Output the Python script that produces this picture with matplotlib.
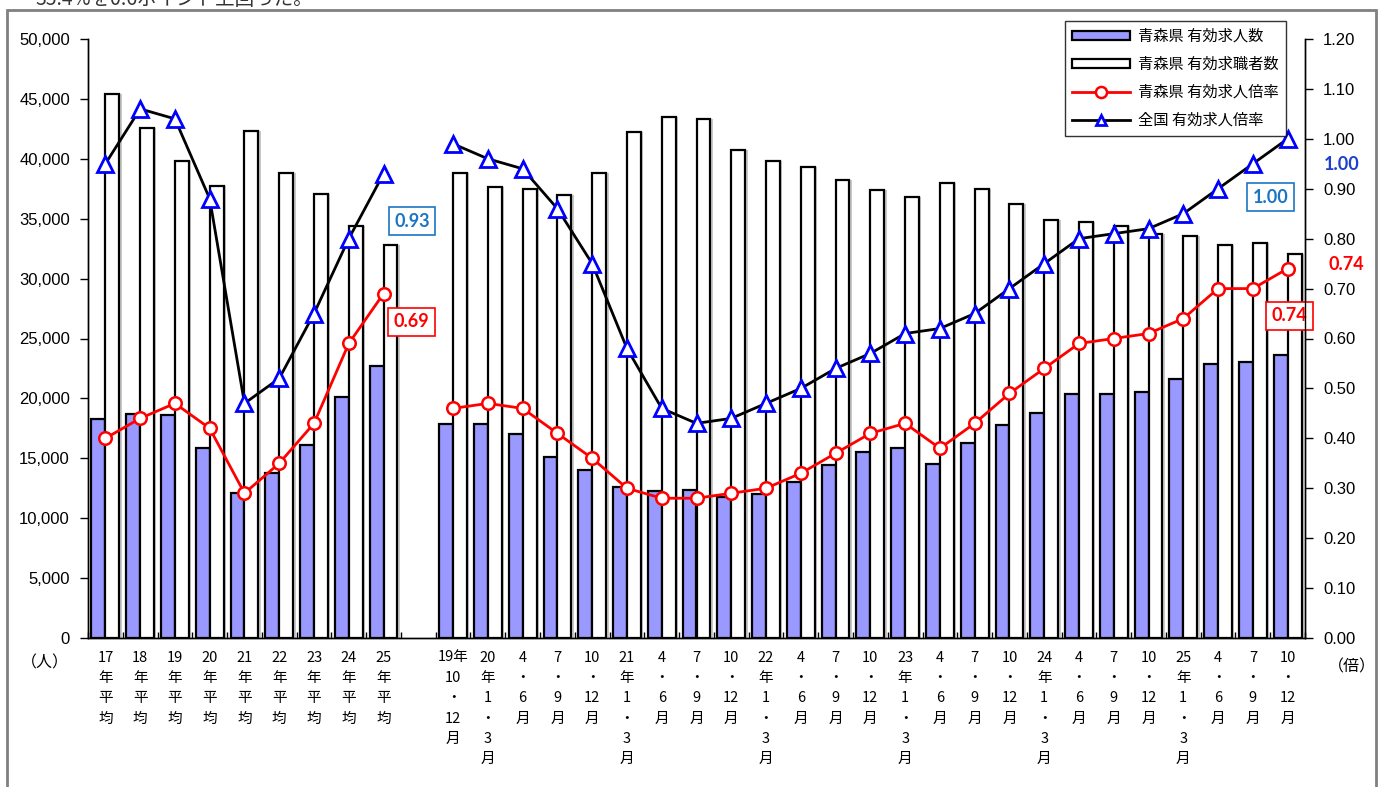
import numpy as np
import matplotlib
matplotlib.use("Agg")
import matplotlib.pyplot as plt
from matplotlib.patches import Rectangle, Patch
from matplotlib.lines import Line2D
from matplotlib.ticker import FuncFormatter, FixedLocator

plt.rcParams['font.family'] = ['Noto Sans CJK JP', 'DejaVu Sans']

# ---------------- data ----------------
categories = [
    "17\n年\n平\n均", "18\n年\n平\n均", "19\n年\n平\n均", "20\n年\n平\n均", "21\n年\n平\n均",
    "22\n年\n平\n均", "23\n年\n平\n均", "24\n年\n平\n均", "25\n年\n平\n均",
    "",
    "19年\n10\n・\n12\n月", "20\n年\n1\n・\n3\n月", "4\n・\n6\n月", "7\n・\n9\n月", "10\n・\n12\n月",
    "21\n年\n1\n・\n3\n月", "4\n・\n6\n月", "7\n・\n9\n月", "10\n・\n12\n月",
    "22\n年\n1\n・\n3\n月", "4\n・\n6\n月", "7\n・\n9\n月", "10\n・\n12\n月",
    "23\n年\n1\n・\n3\n月", "4\n・\n6\n月", "7\n・\n9\n月", "10\n・\n12\n月",
    "24\n年\n1\n・\n3\n月", "4\n・\n6\n月", "7\n・\n9\n月", "10\n・\n12\n月",
    "25\n年\n1\n・\n3\n月", "4\n・\n6\n月", "7\n・\n9\n月", "10\n・\n12\n月",
]

nan = np.nan
# 青森県 有効求人数
job_offers = [18300, 18700, 18600, 15900, 12100, 13800, 16100, 20100, 22700,
              nan,
              17850, 17850, 17000, 15100, 14000, 12600, 12300, 12350, 11750,
              12000, 13000, 14400, 15500, 15850, 14500, 16250, 17750,
              18750, 20400, 20350, 20500, 21600, 22850, 23000, 23600]
# 青森県 有効求職者数
job_seekers = [45400, 42550, 39800, 37700, 42350, 38850, 37100, 34350, 32800,
               nan,
               38850, 37650, 37450, 37000, 38850, 42200, 43450, 43300, 40700,
               39800, 39350, 38200, 37400, 36800, 37950, 37450, 36200,
               34850, 34700, 34400, 33700, 33550, 32800, 33000, 32050]
# 青森県 有効求人倍率
aomori_ratio = [0.40, 0.44, 0.47, 0.42, 0.29, 0.35, 0.43, 0.59, 0.69,
                nan,
                0.46, 0.47, 0.46, 0.41, 0.36, 0.30, 0.28, 0.28, 0.29,
                0.30, 0.33, 0.37, 0.41, 0.43, 0.38, 0.43, 0.49,
                0.54, 0.59, 0.60, 0.61, 0.64, 0.70, 0.70, 0.74]
# 全国 有効求人倍率
national_ratio = [0.95, 1.06, 1.04, 0.88, 0.47, 0.52, 0.65, 0.80, 0.93,
                  nan,
                  0.99, 0.96, 0.94, 0.86, 0.75, 0.58, 0.46, 0.43, 0.44,
                  0.47, 0.50, 0.54, 0.57, 0.61, 0.62, 0.65, 0.70,
                  0.75, 0.80, 0.81, 0.82, 0.85, 0.90, 0.95, 1.00]

left_ticks = [0, 5000, 10000, 15000, 20000, 25000, 30000, 35000, 40000, 45000, 50000]
right_ticks = [0.0, 0.1, 0.2, 0.3, 0.4, 0.5, 0.6, 0.7, 0.8, 0.9, 1.0, 1.1, 1.2]

legend_labels = ["青森県 有効求人数", "青森県 有効求職者数", "青森県 有効求人倍率", "全国 有効求人倍率"]

# ---------------- figure ----------------
W, H = 1383, 787
fig = plt.figure(figsize=(W / 100, H / 100), dpi=100)
fig.patch.set_facecolor('white')

L, R, T, B = 88, 1305, 39, 638
ax = fig.add_axes([L / W, 1 - B / H, (R - L) / W, (B - T) / H])
ax2 = ax.twinx()

x = np.arange(len(categories))
bw = 0.40
blue = '#9999FF'

# shadow
ax.bar(x - 0.2 + 0.07, job_offers, width=bw, color='#c8c8c8', edgecolor='none', zorder=1)
ax.bar(x + 0.2 + 0.07, job_seekers, width=bw, color='#c8c8c8', edgecolor='none', zorder=1)
ax.bar(x - 0.2, job_offers, width=bw, color=blue, edgecolor='black', linewidth=1.6, zorder=2)
ax.bar(x + 0.2, job_seekers, width=bw, color='white', edgecolor='black', linewidth=1.6, zorder=2)

ax.set_xlim(-0.5, len(categories) - 0.5)
ax.set_ylim(0, 50000)
ax2.set_ylim(0, 1.2)

ax2.plot(x, aomori_ratio, color='#FF0000', lw=2, marker='o', ms=9, mfc='white',
         mec='#FF0000', mew=1.8, zorder=5)
ax2.plot(x, national_ratio, color='black', lw=2, marker='^', ms=11, mfc='white',
         mec='#0000FF', mew=2.0, zorder=6)
ax.set_zorder(1)
ax2.set_zorder(2)
ax2.patch.set_visible(False)

# ticks
tick_font = ['Liberation Sans', 'DejaVu Sans']
ax.yaxis.set_major_locator(FixedLocator(left_ticks))
ax.yaxis.set_major_formatter(FuncFormatter(lambda v, p: f"{int(v):,}"))
ax2.yaxis.set_major_locator(FixedLocator(right_ticks))
ax2.yaxis.set_major_formatter(FuncFormatter(lambda v, p: f"{v:.2f}"))
ax.tick_params(axis='y', direction='out', length=6, width=1, pad=7, labelsize=12)
ax2.tick_params(axis='y', direction='out', length=6, width=1, pad=7, labelsize=12)
for lab in ax.get_yticklabels() + ax2.get_yticklabels():
    lab.set_fontfamily(tick_font)

ax.set_xticks(x)
ax.set_xticklabels(categories, fontsize=10.5, linespacing=1.58, va='top')
ax.tick_params(axis='x', length=0, pad=9)
ax.set_xticks(np.arange(-0.5, len(categories)), minor=True)
ax.tick_params(axis='x', which='minor', direction='in', length=4, width=1)

for a in (ax, ax2):
    a.spines['top'].set_visible(False)
    for s in ('left', 'right', 'bottom'):
        a.spines[s].set_color('black')
        a.spines[s].set_linewidth(1.0)

# unit labels
fig.text(45 / W, 1 - 663 / H, "（人）", ha='center', va='center', fontsize=11.5)
fig.text(1352 / W, 1 - 667 / H, "（倍）", ha='center', va='center', fontsize=11.5)

# annotations
ann_font = ['Lato', 'DejaVu Sans']
box_blue = '#1B75C4'
def boxed(xv, yv, s, color, edge):
    ax.text(xv, yv, s, ha='center', va='center', fontsize=13, fontweight='bold',
            color=color, family=ann_font, zorder=10,
            bbox=dict(boxstyle='square,pad=0.3', fc='white', ec=edge, lw=1.2))

boxed(8.82, 34800, "0.93", box_blue, box_blue)
boxed(8.80, 26380, "0.69", '#FF0000', '#FF0000')
boxed(33.5, 36810, "1.00", box_blue, box_blue)
boxed(34.05, 26880, "0.74", '#FF0000', '#FF0000')
fig.text(1342 / W, 1 - 164 / H, "1.00", ha='center', va='center', fontsize=13,
         fontweight='bold', color='#1f3fcc', family=ann_font)
fig.text(1346 / W, 1 - 264 / H, "0.74", ha='center', va='center', fontsize=13,
         fontweight='bold', color='#FF0000', family=ann_font)

# legend
handles = [
    Patch(facecolor=blue, edgecolor='black', linewidth=1.6),
    Patch(facecolor='white', edgecolor='black', linewidth=1.6),
    Line2D([], [], color='#FF0000', lw=2, marker='o', ms=8, mfc='white', mec='#FF0000', mew=1.8),
    Line2D([], [], color='black', lw=2, marker='^', ms=7, mfc='white', mec='#0000FF', mew=2.0),
]
leg = ax2.legend(handles, legend_labels, loc='upper right', bbox_to_anchor=(0.984, 1.03),
                 fontsize=11, frameon=True, fancybox=False, edgecolor='black',
                 handlelength=3.8, handleheight=0.5, labelspacing=0.72, borderpad=0.45,
                 handletextpad=0.5, borderaxespad=0)
leg.get_frame().set_linewidth(1.0)
leg.set_zorder(20)

# outer frame & cut-off text
fig.patches.append(Rectangle((7 / W, -0.02), (1376 - 7) / W, 1 - 10 / H + 0.02,
                             transform=fig.transFigure, fill=False, ec='#808080', lw=2))
fig.text(35 / W, 1 - 10 / H, "35.4%を0.6ポイント上回った。", ha='left', va='bottom',
         fontsize=14, color='#333333')

fig.savefig("out.png", dpi=100)
